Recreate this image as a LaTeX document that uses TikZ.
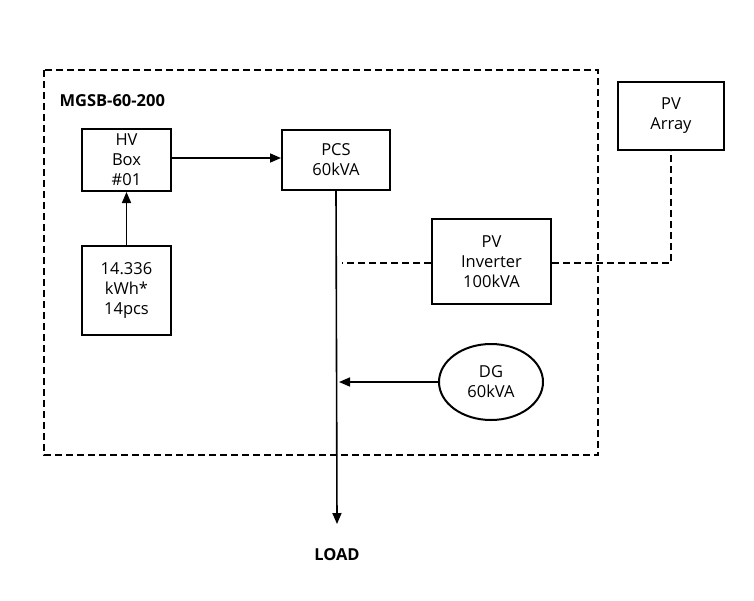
\documentclass[tikz,border=0pt]{standalone}
\usepackage{fontspec}
\setmainfont{Open Sans}
\usetikzlibrary{arrows.meta,shapes.geometric}
\begin{document}
\begin{tikzpicture}[x=1pt,y=-1pt,
  blk/.style={draw,line width=2pt,align=center,inner sep=0pt,font=\fontsize{16.5}{20}\selectfont},
  arr/.style={line width=1.6pt,-{Triangle[length=11pt,width=9pt]}},
  dsh/.style={line width=2pt,dash pattern=on 7pt off 4pt}]
\useasboundingbox (0,0) rectangle (754,600);
\draw[dsh] (44,70) rectangle (598,455);
\node[anchor=west,font=\fontsize{16.5}{20}\selectfont\bfseries] (lbl) at (56,101) {MGSB-60-200};
\node[blk,minimum width=89pt,minimum height=62pt] (hv) at (126.5,160) {HV\\Box\\\#01};
\node[blk,minimum width=108pt,minimum height=60pt] (pcs) at (336,160) {PCS\\60kVA};
\node[blk,minimum width=89pt,minimum height=89pt] (bat) at (126.5,290.5) {14.336\\kWh*\\14pcs};
\node[blk,minimum width=119pt,minimum height=85pt] (inv) at (491.5,261.5) {PV\\Inverter\\100kVA};
\node[blk,minimum width=106pt,minimum height=68pt] (pva) at (671,116) {PV\\Array};
\node[blk,ellipse,minimum width=104pt,minimum height=76pt] (dg) at (491,382) {DG\\60kVA};
\node[font=\fontsize{16.5}{20}\selectfont\bfseries] (load) at (337,555) {LOAD};
\coordinate (end) at (337,524);
\coordinate (j1) at (342,263);
\coordinate (j2) at (339,382);
\coordinate (c1) at (671,263);
\draw[arr] (bat.north) -- (hv.south);
\draw[arr] (hv.east |- 0,158) -- (pcs.west |- 0,158);
\draw[arr] (pcs.south) -- (end);
\draw[dsh] (inv.west |- j1) -- (j1);
\draw[dsh] (inv.east |- c1) -- (c1) -- (pva.south);
\draw[arr] (dg.west) -- (j2);
\end{tikzpicture}
\end{document}
